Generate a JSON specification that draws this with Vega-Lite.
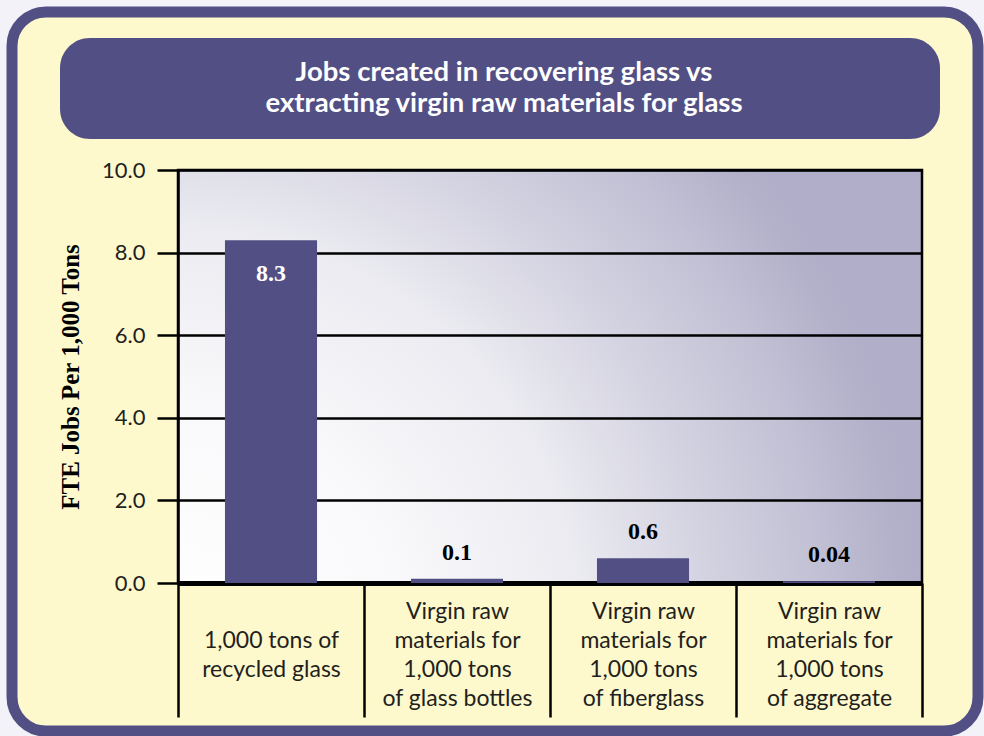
{
  "$schema": "https://vega.github.io/schema/vega-lite/v6.json",
  "background": "#f2f2f8",
  "padding": {"left": 6, "top": 6, "right": 0, "bottom": 0},
  "spacing": -702,
  "align": "none",
  "vconcat": [
    {
      "width": 966,
      "height": 719,
      "view": {"fill": "#fef9cc", "stroke": "#524f85", "strokeWidth": 11, "cornerRadius": 34},
      "data": {"values": [{}]},
      "mark": {"type": "point", "opacity": 0},
      "encoding": {}
    },
    {
      "spacing": 41,
      "align": "none",
      "hconcat": [
        {
          "width": 1,
          "height": 1,
          "view": {"stroke": null, "fill": null},
          "data": {"values": [{}]},
          "mark": {"type": "point", "opacity": 0},
          "encoding": {}
        },
        {
          "spacing": 18,
          "align": "none",
          "vconcat": [
            {
              "width": 880,
              "height": 101,
              "view": {"fill": "#524f85", "stroke": null, "cornerRadius": 30},
              "data": {"values": [{}]},
              "mark": {"type": "text", "font": "Lato", "fontSize": 27.5, "fontWeight": "bold", "color": "#ffffff", "lineHeight": 31, "baseline": "middle", "align": "center", "dx": 4, "dy": -16},
              "encoding": {"text": {"value": ["Jobs created in recovering glass vs", "extracting virgin raw materials for glass"]}}
            },
            {
              "spacing": -7,
              "align": "none",
              "hconcat": [
                {
                  "width": 1,
                  "height": 1,
                  "view": {"stroke": null, "fill": null},
                  "data": {"values": [{}]},
                  "mark": {"type": "point", "opacity": 0},
                  "encoding": {}
                },
                {
                  "width": 744,
                  "height": 413,
                  "view": {
                    "fill": {
                      "gradient": "radial",
                      "x1": 0, "y1": 0.8407, "r1": 0,
                      "x2": 0, "y2": 0.8407, "r2": 1,
                      "stops": [
                        {"offset": 0, "color": "#ffffff"},
                        {"offset": 0.3, "color": "#f9f9fb"},
                        {"offset": 0.54, "color": "#ebebf1"},
                        {"offset": 0.7, "color": "#d5d4e2"},
                        {"offset": 0.836, "color": "#c5c4d7"},
                        {"offset": 0.97, "color": "#b3b1ca"},
                        {"offset": 1, "color": "#b0aec8"}
                      ]
                    },
                    "stroke": "#000000",
                    "strokeWidth": 2.5
                  },
                  "data": {"values": [
                    {"category": "1,000 tons of\nrecycled glass", "jobs": 8.3},
                    {"category": "Virgin raw\nmaterials for\n1,000 tons\nof glass bottles", "jobs": 0.1},
                    {"category": "Virgin raw\nmaterials for\n1,000 tons\nof fiberglass", "jobs": 0.6},
                    {"category": "Virgin raw\nmaterials for\n1,000 tons\nof aggregate", "jobs": 0.04}
                  ]},
                  "encoding": {
                    "x": {
                      "field": "category",
                      "type": "nominal",
                      "sort": null,
                      "scale": {"paddingInner": 0, "paddingOuter": 0},
                      "axis": {
                        "title": null,
                        "labelAngle": 0,
                        "labelFont": "Lato",
                        "labelFontSize": 23,
                        "labelColor": "#231f20",
                        "labelLineHeight": 29,
                        "labelBaseline": "middle",
                        "labelExpr": "split((indexof(datum.label, '\\n') == lastindexof(datum.label, '\\n') ? '\\n' : '') + datum.label, '\\n')",
                        "labelLimit": 0,
                        "labelPadding": -106,
                        "tickBand": "extent",
                        "tickSize": 134,
                        "tickWidth": 2.5,
                        "tickColor": "#000000",
                        "domainColor": "#000000",
                        "domainWidth": 5,
                        "grid": false
                      }
                    },
                    "y": {
                      "field": "jobs",
                      "type": "quantitative",
                      "scale": {"domain": [0, 10], "nice": false},
                      "axis": {
                        "title": "FTE Jobs Per 1,000 Tons",
                        "titleFont": "Liberation Serif",
                        "titleFontSize": 25,
                        "titleFontWeight": "bold",
                        "titleColor": "#000000",
                        "titlePadding": 18,
                        "values": [0, 2, 4, 6, 8, 10],
                        "format": ".1f",
                        "labelFont": "Lato",
                        "labelFontSize": 22,
                        "labelColor": "#231f20",
                        "labelPadding": 12,
                        "tickSize": 21,
                        "tickWidth": 2.5,
                        "tickColor": "#000000",
                        "domainColor": "#000000",
                        "domainWidth": 2.5,
                        "grid": true,
                        "gridColor": "#000000",
                        "gridWidth": 2.5,
                        "gridOpacity": 1
                      }
                    }
                  },
                  "layer": [
                    {"mark": {"type": "bar", "color": "#524f85", "width": {"band": 0.495}}},
                    {
                      "transform": [{"filter": "datum.jobs > 5"}],
                      "mark": {"type": "text", "dy": 34, "color": "#ffffff", "font": "Liberation Serif", "fontSize": 24, "fontWeight": "bold", "baseline": "middle"},
                      "encoding": {"text": {"field": "jobs", "type": "nominal"}}
                    },
                    {
                      "transform": [{"filter": "datum.jobs <= 5"}],
                      "mark": {"type": "text", "dy": -26, "color": "#000000", "font": "Liberation Serif", "fontSize": 24, "fontWeight": "bold", "baseline": "middle"},
                      "encoding": {"text": {"field": "jobs", "type": "nominal"}}
                    }
                  ]
                }
              ]
            }
          ]
        }
      ]
    }
  ],
  "config": {"view": {"stroke": null}, "font": "Lato"}
}
